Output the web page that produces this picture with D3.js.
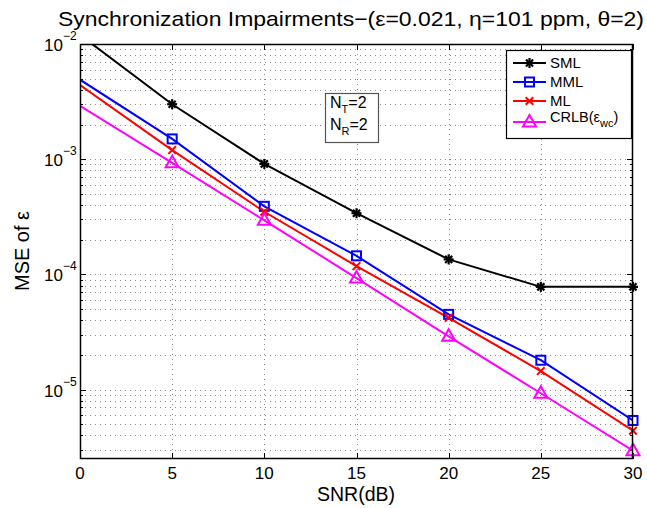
<!DOCTYPE html>
<html><head><meta charset="utf-8">
<script src="https://cdn.jsdelivr.net/npm/d3@7"></script>
<style>body{margin:0;background:#fff}svg{display:block}text{font-family:"Liberation Sans",Arial,sans-serif}</style>
</head><body><svg id="c" width="647" height="508"></svg>
<script>
const snr = [0, 5, 10, 15, 20, 25, 30];
const sml  = [1.2e-2, 3.0e-3, 9.1e-4, 3.4e-4, 1.35e-4, 7.8e-5, 7.8e-5];
const mml  = [4.9e-3, 1.5e-3, 3.9e-4, 1.45e-4, 4.5e-5, 1.8e-5, 5.4e-6];
const ml   = [4.4e-3, 1.2e-3, 3.5e-4, 1.18e-4, 4.2e-5, 1.45e-5, 4.4e-6];
const crlb = [2.9e-3, 9.3e-4, 2.95e-4, 9.3e-5, 2.9e-5, 9.3e-6, 2.95e-6];
const xTicks = [0, 5, 10, 15, 20, 25, 30];
const yDecades = [-2, -3, -4, -5];
const seriesNames = ["SML", "MML", "ML", "CRLB"];
const colors = ["#000000", "#0000ff", "#ff0000", "#ff00ff"];
const markers = ["star", "square", "x", "triangle"];

const svg = d3.select("#c");
const L = 80, R = 633, T = 44, B = 459;
const x = d3.scaleLinear().domain([0, 30]).range([L, R]);
const y = d3.scaleLog().domain([2.5e-6, 1e-2]).range([B, T]);

// grid
const g = svg.append("g");
const minorY = [];
for (let e = -6; e <= -3; e++) for (let m = 1; m <= 9; m++) { const v = m * Math.pow(10, e); if (v >= 2.5e-6 && v < 1e-2) minorY.push(v); }
g.selectAll(".gy").data(minorY).enter().append("line")
  .attr("x1", L).attr("x2", R).attr("y1", d => Math.round(y(d)) + 0.5).attr("y2", d => Math.round(y(d)) + 0.5)
  .attr("stroke", "#888").attr("stroke-width", 1).attr("stroke-dasharray", "1,4");
g.selectAll(".gx").data(xTicks.slice(1, -1)).enter().append("line")
  .attr("y1", T).attr("y2", B).attr("x1", d => Math.round(x(d)) + 0.5).attr("x2", d => Math.round(x(d)) + 0.5)
  .attr("stroke", "#888").attr("stroke-width", 1).attr("stroke-dasharray", "1,4");

// ticks
const tk = svg.append("g").attr("stroke", "#000").attr("stroke-width", 1);
xTicks.forEach(t => {
  const px = Math.round(x(t)) + 0.5;
  tk.append("line").attr("x1", px).attr("x2", px).attr("y1", B).attr("y2", B - 6);
  tk.append("line").attr("x1", px).attr("x2", px).attr("y1", T).attr("y2", T + 6);
});
minorY.concat(yDecades.map(e => Math.pow(10, e))).forEach(v => {
  const py = Math.round(y(v)) + 0.5;
  const isMajor = Math.abs(Math.log10(v) - Math.round(Math.log10(v))) < 1e-9;
  const len = isMajor ? 6 : 3;
  tk.append("line").attr("x1", L).attr("x2", L + len).attr("y1", py).attr("y2", py);
  tk.append("line").attr("x1", R).attr("x2", R - len).attr("y1", py).attr("y2", py);
});

// tick labels
svg.append("g").selectAll("text").data(xTicks).enter().append("text")
  .attr("x", d => x(d)).attr("y", 479).attr("text-anchor", "middle").attr("font-size", 17).text(d => d);
yDecades.forEach(e => {
  const py = y(Math.pow(10, e));
  svg.append("text").attr("x", 63).attr("y", py + 7).attr("text-anchor", "end").attr("font-size", 17).text("10");
  svg.append("text").attr("x", 63).attr("y", py - 4).attr("font-size", 12).text("\u2212" + (-e));
});

// clip
svg.append("clipPath").attr("id", "clip").append("rect").attr("x", L).attr("y", T).attr("width", R - L).attr("height", B - T);

const data = [sml, mml, ml, crlb];
const line = d3.line().x((d, i) => x(snr[i])).y(d => y(d));

function drawMarker(sel, type, color, cx, cy) {
  if (type === "star") {
    const r = 5;
    [0, 45, 90, 135].forEach(a => {
      const rad = a * Math.PI / 180;
      sel.append("line").attr("x1", cx - r * Math.cos(rad)).attr("y1", cy - r * Math.sin(rad))
        .attr("x2", cx + r * Math.cos(rad)).attr("y2", cy + r * Math.sin(rad))
        .attr("stroke", color).attr("stroke-width", 2.2);
    });
  } else if (type === "square") {
    sel.append("rect").attr("x", cx - 4.5).attr("y", cy - 4.5).attr("width", 9).attr("height", 9)
      .attr("fill", "none").attr("stroke", color).attr("stroke-width", 2);
  } else if (type === "x") {
    const r = 3.8;
    sel.append("path").attr("d", `M${cx - r},${cy - r}L${cx + r},${cy + r}M${cx - r},${cy + r}L${cx + r},${cy - r}`)
      .attr("stroke", color).attr("stroke-width", 2).attr("fill", "none");
  } else if (type === "triangle") {
    sel.append("path").attr("d", `M${cx},${cy - 7}L${cx + 6.5},${cy + 4.5}L${cx - 6.5},${cy + 4.5}Z`)
      .attr("stroke", color).attr("stroke-width", 2).attr("fill", "none");
  }
}

const plot = svg.append("g").attr("clip-path", "url(#clip)");
data.forEach((s, k) => {
  plot.append("path").datum(s).attr("d", line).attr("fill", "none").attr("stroke", colors[k]).attr("stroke-width", 2);
});
const mk = svg.append("g");
data.forEach((s, k) => {
  s.forEach((v, i) => {
    if (i === 0) return;
    drawMarker(mk, markers[k], colors[k], x(snr[i]), y(v));
  });
});

// axes box
svg.append("rect").attr("x", L + 0.5).attr("y", T + 0.5).attr("width", R - L - 1).attr("height", B - T - 1)
  .attr("fill", "none").attr("stroke", "#000").attr("stroke-width", 1.5);

// legend
const lg = svg.append("g");
lg.append("rect").attr("x", 506.5).attr("y", 50.5).attr("width", 125).attr("height", 88)
  .attr("fill", "#fff").attr("stroke", "#000").attr("stroke-width", 1.2);
const ly = [63, 82, 101, 122];
seriesNames.forEach((n, k) => {
  lg.append("line").attr("x1", 513).attr("x2", 546).attr("y1", ly[k]).attr("y2", ly[k]).attr("stroke", colors[k]).attr("stroke-width", 2);
  drawMarker(lg, markers[k], colors[k], 529.5, ly[k]);
  if (k < 3) {
    lg.append("text").attr("x", 550).attr("y", ly[k] + 4.5).attr("font-size", 15).text(n);
  } else {
    const t = lg.append("text").attr("x", 550).attr("y", ly[k]).attr("font-size", 14.5);
    t.append("tspan").text("CRLB(\u03b5");
    t.append("tspan").attr("font-size", 11).attr("dy", 5).text("wc");
    t.append("tspan").attr("dy", -5).text(")");
  }
});

// annotation box
svg.append("rect").attr("x", 325.5).attr("y", 93.5).attr("width", 53).attr("height", 49)
  .attr("fill", "#fff").attr("stroke", "#555").attr("stroke-width", 1.2);
[["T", 108], ["R", 130]].forEach(([s, by]) => {
  const t = svg.append("text").attr("x", 330).attr("y", by).attr("font-size", 16);
  t.append("tspan").text("N");
  t.append("tspan").attr("font-size", 11).attr("dy", 5).text(s);
  t.append("tspan").attr("dy", -5).text("=2");
});

// title & labels
svg.append("text").attr("x", 351).attr("y", 26).attr("text-anchor", "middle").attr("font-size", 21)
  .attr("textLength", 586).attr("lengthAdjust", "spacingAndGlyphs")
  .text("Synchronization Impairments\u2212(\u03b5=0.021, \u03b7=101 ppm, \u03b8=2)");
svg.append("text").attr("x", 356).attr("y", 501).attr("text-anchor", "middle").attr("font-size", 19.5).text("SNR(dB)");
svg.append("text").attr("transform", "translate(29,251) rotate(-90)").attr("text-anchor", "middle").attr("font-size", 20).text("MSE of \u03b5");
</script></body></html>
